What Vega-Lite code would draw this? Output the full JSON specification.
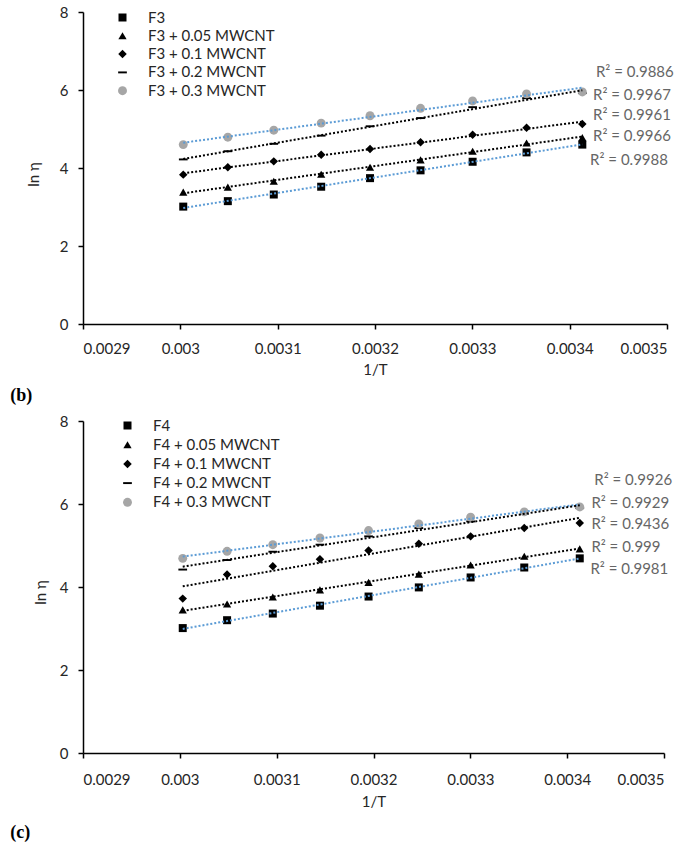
{
  "$schema": "https://vega.github.io/schema/vega-lite/v6.json",
  "background": "white",
  "padding": {"left": 10, "top": 5, "right": 5, "bottom": 3},
  "spacing": 9,
  "datasets": {
    "pts": [
      {"panel": "b", "series": "F3", "x": 0.0030030, "y": 3.01},
      {"panel": "b", "series": "F3", "x": 0.0030488, "y": 3.15},
      {"panel": "b", "series": "F3", "x": 0.0030960, "y": 3.32},
      {"panel": "b", "series": "F3", "x": 0.0031447, "y": 3.52},
      {"panel": "b", "series": "F3", "x": 0.0031949, "y": 3.74},
      {"panel": "b", "series": "F3", "x": 0.0032468, "y": 3.94},
      {"panel": "b", "series": "F3", "x": 0.0033003, "y": 4.16},
      {"panel": "b", "series": "F3", "x": 0.0033557, "y": 4.40},
      {"panel": "b", "series": "F3", "x": 0.0034130, "y": 4.60},
      {"panel": "b", "series": "F3 + 0.05 MWCNT", "x": 0.0030030, "y": 3.38},
      {"panel": "b", "series": "F3 + 0.05 MWCNT", "x": 0.0030488, "y": 3.51},
      {"panel": "b", "series": "F3 + 0.05 MWCNT", "x": 0.0030960, "y": 3.66},
      {"panel": "b", "series": "F3 + 0.05 MWCNT", "x": 0.0031447, "y": 3.84},
      {"panel": "b", "series": "F3 + 0.05 MWCNT", "x": 0.0031949, "y": 4.02},
      {"panel": "b", "series": "F3 + 0.05 MWCNT", "x": 0.0032468, "y": 4.21},
      {"panel": "b", "series": "F3 + 0.05 MWCNT", "x": 0.0033003, "y": 4.43},
      {"panel": "b", "series": "F3 + 0.05 MWCNT", "x": 0.0033557, "y": 4.64},
      {"panel": "b", "series": "F3 + 0.05 MWCNT", "x": 0.0034130, "y": 4.78},
      {"panel": "b", "series": "F3 + 0.1 MWCNT", "x": 0.0030030, "y": 3.83},
      {"panel": "b", "series": "F3 + 0.1 MWCNT", "x": 0.0030488, "y": 4.02},
      {"panel": "b", "series": "F3 + 0.1 MWCNT", "x": 0.0030960, "y": 4.17},
      {"panel": "b", "series": "F3 + 0.1 MWCNT", "x": 0.0031447, "y": 4.34},
      {"panel": "b", "series": "F3 + 0.1 MWCNT", "x": 0.0031949, "y": 4.49},
      {"panel": "b", "series": "F3 + 0.1 MWCNT", "x": 0.0032468, "y": 4.66},
      {"panel": "b", "series": "F3 + 0.1 MWCNT", "x": 0.0033003, "y": 4.85},
      {"panel": "b", "series": "F3 + 0.1 MWCNT", "x": 0.0033557, "y": 5.03},
      {"panel": "b", "series": "F3 + 0.1 MWCNT", "x": 0.0034130, "y": 5.13},
      {"panel": "b", "series": "F3 + 0.2 MWCNT", "x": 0.0030030, "y": 4.22},
      {"panel": "b", "series": "F3 + 0.2 MWCNT", "x": 0.0030488, "y": 4.43},
      {"panel": "b", "series": "F3 + 0.2 MWCNT", "x": 0.0030960, "y": 4.62},
      {"panel": "b", "series": "F3 + 0.2 MWCNT", "x": 0.0031447, "y": 4.83},
      {"panel": "b", "series": "F3 + 0.2 MWCNT", "x": 0.0031949, "y": 5.07},
      {"panel": "b", "series": "F3 + 0.2 MWCNT", "x": 0.0032468, "y": 5.28},
      {"panel": "b", "series": "F3 + 0.2 MWCNT", "x": 0.0033003, "y": 5.56},
      {"panel": "b", "series": "F3 + 0.2 MWCNT", "x": 0.0033557, "y": 5.79},
      {"panel": "b", "series": "F3 + 0.2 MWCNT", "x": 0.0034130, "y": 5.92},
      {"panel": "b", "series": "F3 + 0.3 MWCNT", "x": 0.0030030, "y": 4.60},
      {"panel": "b", "series": "F3 + 0.3 MWCNT", "x": 0.0030488, "y": 4.79},
      {"panel": "b", "series": "F3 + 0.3 MWCNT", "x": 0.0030960, "y": 4.97},
      {"panel": "b", "series": "F3 + 0.3 MWCNT", "x": 0.0031447, "y": 5.15},
      {"panel": "b", "series": "F3 + 0.3 MWCNT", "x": 0.0031949, "y": 5.34},
      {"panel": "b", "series": "F3 + 0.3 MWCNT", "x": 0.0032468, "y": 5.53},
      {"panel": "b", "series": "F3 + 0.3 MWCNT", "x": 0.0033003, "y": 5.72},
      {"panel": "b", "series": "F3 + 0.3 MWCNT", "x": 0.0033557, "y": 5.90},
      {"panel": "b", "series": "F3 + 0.3 MWCNT", "x": 0.0034130, "y": 5.95},
      {"panel": "c", "series": "F4", "x": 0.0030030, "y": 3.01},
      {"panel": "c", "series": "F4", "x": 0.0030488, "y": 3.20},
      {"panel": "c", "series": "F4", "x": 0.0030960, "y": 3.36},
      {"panel": "c", "series": "F4", "x": 0.0031447, "y": 3.55},
      {"panel": "c", "series": "F4", "x": 0.0031949, "y": 3.77},
      {"panel": "c", "series": "F4", "x": 0.0032468, "y": 3.99},
      {"panel": "c", "series": "F4", "x": 0.0033003, "y": 4.23},
      {"panel": "c", "series": "F4", "x": 0.0033557, "y": 4.47},
      {"panel": "c", "series": "F4", "x": 0.0034130, "y": 4.69},
      {"panel": "c", "series": "F4 + 0.05 MWCNT", "x": 0.0030030, "y": 3.45},
      {"panel": "c", "series": "F4 + 0.05 MWCNT", "x": 0.0030488, "y": 3.59},
      {"panel": "c", "series": "F4 + 0.05 MWCNT", "x": 0.0030960, "y": 3.76},
      {"panel": "c", "series": "F4 + 0.05 MWCNT", "x": 0.0031447, "y": 3.93},
      {"panel": "c", "series": "F4 + 0.05 MWCNT", "x": 0.0031949, "y": 4.11},
      {"panel": "c", "series": "F4 + 0.05 MWCNT", "x": 0.0032468, "y": 4.31},
      {"panel": "c", "series": "F4 + 0.05 MWCNT", "x": 0.0033003, "y": 4.53},
      {"panel": "c", "series": "F4 + 0.05 MWCNT", "x": 0.0033557, "y": 4.74},
      {"panel": "c", "series": "F4 + 0.05 MWCNT", "x": 0.0034130, "y": 4.92},
      {"panel": "c", "series": "F4 + 0.1 MWCNT", "x": 0.0030030, "y": 3.72},
      {"panel": "c", "series": "F4 + 0.1 MWCNT", "x": 0.0030488, "y": 4.30},
      {"panel": "c", "series": "F4 + 0.1 MWCNT", "x": 0.0030960, "y": 4.50},
      {"panel": "c", "series": "F4 + 0.1 MWCNT", "x": 0.0031447, "y": 4.67},
      {"panel": "c", "series": "F4 + 0.1 MWCNT", "x": 0.0031949, "y": 4.88},
      {"panel": "c", "series": "F4 + 0.1 MWCNT", "x": 0.0032468, "y": 5.04},
      {"panel": "c", "series": "F4 + 0.1 MWCNT", "x": 0.0033003, "y": 5.22},
      {"panel": "c", "series": "F4 + 0.1 MWCNT", "x": 0.0033557, "y": 5.42},
      {"panel": "c", "series": "F4 + 0.1 MWCNT", "x": 0.0034130, "y": 5.54},
      {"panel": "c", "series": "F4 + 0.2 MWCNT", "x": 0.0030030, "y": 4.42},
      {"panel": "c", "series": "F4 + 0.2 MWCNT", "x": 0.0030488, "y": 4.65},
      {"panel": "c", "series": "F4 + 0.2 MWCNT", "x": 0.0030960, "y": 4.85},
      {"panel": "c", "series": "F4 + 0.2 MWCNT", "x": 0.0031447, "y": 5.02},
      {"panel": "c", "series": "F4 + 0.2 MWCNT", "x": 0.0031949, "y": 5.22},
      {"panel": "c", "series": "F4 + 0.2 MWCNT", "x": 0.0032468, "y": 5.42},
      {"panel": "c", "series": "F4 + 0.2 MWCNT", "x": 0.0033003, "y": 5.58},
      {"panel": "c", "series": "F4 + 0.2 MWCNT", "x": 0.0033557, "y": 5.76},
      {"panel": "c", "series": "F4 + 0.2 MWCNT", "x": 0.0034130, "y": 5.90},
      {"panel": "c", "series": "F4 + 0.3 MWCNT", "x": 0.0030030, "y": 4.69},
      {"panel": "c", "series": "F4 + 0.3 MWCNT", "x": 0.0030488, "y": 4.86},
      {"panel": "c", "series": "F4 + 0.3 MWCNT", "x": 0.0030960, "y": 5.02},
      {"panel": "c", "series": "F4 + 0.3 MWCNT", "x": 0.0031447, "y": 5.18},
      {"panel": "c", "series": "F4 + 0.3 MWCNT", "x": 0.0031949, "y": 5.36},
      {"panel": "c", "series": "F4 + 0.3 MWCNT", "x": 0.0032468, "y": 5.52},
      {"panel": "c", "series": "F4 + 0.3 MWCNT", "x": 0.0033003, "y": 5.68},
      {"panel": "c", "series": "F4 + 0.3 MWCNT", "x": 0.0033557, "y": 5.81},
      {"panel": "c", "series": "F4 + 0.3 MWCNT", "x": 0.0034130, "y": 5.93}
    ],
    "fits": [
      {"panel": "b", "series": "F3 + 0.3 MWCNT", "r2": "R² = 0.9886", "lx": 0.003427, "ly": 6.46},
      {"panel": "b", "series": "F3 + 0.2 MWCNT", "r2": "R² = 0.9967", "lx": 0.003424, "ly": 5.87},
      {"panel": "b", "series": "F3 + 0.1 MWCNT", "r2": "R² = 0.9961", "lx": 0.003424, "ly": 5.36},
      {"panel": "b", "series": "F3 + 0.05 MWCNT", "r2": "R² = 0.9966", "lx": 0.003424, "ly": 4.82},
      {"panel": "b", "series": "F3", "r2": "R² = 0.9988", "lx": 0.003421, "ly": 4.21},
      {"panel": "c", "series": "F4 + 0.3 MWCNT", "r2": "R² = 0.9926", "lx": 0.003428, "ly": 6.58},
      {"panel": "c", "series": "F4 + 0.2 MWCNT", "r2": "R² = 0.9929", "lx": 0.003425, "ly": 6.02},
      {"panel": "c", "series": "F4 + 0.1 MWCNT", "r2": "R² = 0.9436", "lx": 0.003425, "ly": 5.53},
      {"panel": "c", "series": "F4 + 0.05 MWCNT", "r2": "R² = 0.999", "lx": 0.003425, "ly": 4.96},
      {"panel": "c", "series": "F4", "r2": "R² = 0.9981", "lx": 0.003424, "ly": 4.43}
    ]
  },
  "vconcat": [
    {
      "width": 584,
      "height": 312,
      "title": {"text": "(b)", "orient": "bottom", "anchor": "start", "frame": "bounds", "font": "Liberation Serif", "fontSize": 18, "fontWeight": "bold", "color": "#000", "offset": 10, "dx": -16},
      "layer": [
        {
          "data": {"name": "pts"},
          "transform": [{"filter": "datum.panel === 'b'"}],
          "mark": {"type": "point", "filled": true, "opacity": 1},
          "encoding": {
            "x": {"field": "x", "type": "quantitative", "title": "1/T", "scale": {"domain": [0.0029, 0.0035], "nice": false, "zero": false}, "axis": {"values": [0.0029, 0.003, 0.0031, 0.0032, 0.0033, 0.0034, 0.0035], "format": "~g", "labelPadding": 12, "titlePadding": 6}},
            "y": {"field": "y", "type": "quantitative", "title": "ln η", "scale": {"domain": [0, 8], "nice": false}, "axis": {"values": [0, 2, 4, 6, 8], "titlePadding": 18, "titleY": 162}},
            "shape": {"field": "series", "type": "nominal", "scale": {"domain": ["F3", "F3 + 0.05 MWCNT", "F3 + 0.1 MWCNT", "F3 + 0.2 MWCNT", "F3 + 0.3 MWCNT"], "range": ["square", "triangle-up", "diamond", "M-1,-0.22H1V0.22H-1Z", "circle"]}, "legend": {"orient": "none", "legendX": 32, "legendY": -2, "title": null, "rowPadding": 2.3}},
            "color": {"field": "series", "type": "nominal", "scale": {"domain": ["F3", "F3 + 0.05 MWCNT", "F3 + 0.1 MWCNT", "F3 + 0.2 MWCNT", "F3 + 0.3 MWCNT"], "range": ["#000000", "#000000", "#000000", "#000000", "#a6a6a6"]}, "legend": {"orient": "none", "legendX": 32, "legendY": -2, "title": null, "rowPadding": 2.3}},
            "size": {"field": "series", "type": "nominal", "scale": {"domain": ["F3", "F3 + 0.05 MWCNT", "F3 + 0.1 MWCNT", "F3 + 0.2 MWCNT", "F3 + 0.3 MWCNT"], "range": [64, 80, 90, 144, 81]}, "legend": null}
          }
        },
        {
          "data": {"name": "pts"},
          "transform": [
            {"filter": "datum.panel === 'b' && (datum.series === 'F3' || datum.series === 'F3 + 0.3 MWCNT')"},
            {"regression": "y", "on": "x", "groupby": ["series"]}
          ],
          "mark": {"type": "line", "color": "#5b9bd5", "strokeWidth": 2, "strokeDash": [2, 2]},
          "encoding": {
            "x": {"field": "x", "type": "quantitative", "title": "1/T"},
            "y": {"field": "y", "type": "quantitative", "title": "ln η"},
            "detail": {"field": "series"}
          }
        },
        {
          "data": {"name": "pts"},
          "transform": [
            {"filter": "datum.panel === 'b' && datum.series !== 'F3' && datum.series !== 'F3 + 0.3 MWCNT'"},
            {"regression": "y", "on": "x", "groupby": ["series"]}
          ],
          "mark": {"type": "line", "color": "#000000", "strokeWidth": 2, "strokeDash": [2, 2]},
          "encoding": {
            "x": {"field": "x", "type": "quantitative", "title": "1/T"},
            "y": {"field": "y", "type": "quantitative", "title": "ln η"},
            "detail": {"field": "series"}
          }
        },
        {
          "data": {"name": "fits"},
          "transform": [{"filter": "datum.panel === 'b'"}],
          "mark": {"type": "text", "align": "left", "baseline": "middle", "font": "Lato", "fontSize": 15, "color": "#666666"},
          "encoding": {
            "x": {"field": "lx", "type": "quantitative", "title": "1/T"},
            "y": {"field": "ly", "type": "quantitative", "title": "ln η"},
            "text": {"field": "r2"}
          }
        }
      ]
    },
    {
      "width": 581,
      "height": 332,
      "title": {"text": "(c)", "orient": "bottom", "anchor": "start", "frame": "bounds", "font": "Liberation Serif", "fontSize": 18, "fontWeight": "bold", "color": "#000", "offset": 15, "dx": -23},
      "layer": [
        {
          "data": {"name": "pts"},
          "transform": [{"filter": "datum.panel === 'c'"}],
          "mark": {"type": "point", "filled": true, "opacity": 1},
          "encoding": {
            "x": {"field": "x", "type": "quantitative", "title": "1/T", "scale": {"domain": [0.0029, 0.0035], "nice": false, "zero": false}, "axis": {"values": [0.0029, 0.003, 0.0031, 0.0032, 0.0033, 0.0034, 0.0035], "format": "~g", "labelPadding": 14, "titlePadding": 7}},
            "y": {"field": "y", "type": "quantitative", "title": "ln η", "scale": {"domain": [0, 8], "nice": false}, "axis": {"values": [0, 2, 4, 6, 8], "titlePadding": 11, "titleY": 171}},
            "shape": {"field": "series", "type": "nominal", "scale": {"domain": ["F4", "F4 + 0.05 MWCNT", "F4 + 0.1 MWCNT", "F4 + 0.2 MWCNT", "F4 + 0.3 MWCNT"], "range": ["square", "triangle-up", "diamond", "M-1,-0.22H1V0.22H-1Z", "circle"]}, "legend": {"orient": "none", "legendX": 37, "legendY": -3, "title": null, "rowPadding": 3.2}},
            "color": {"field": "series", "type": "nominal", "scale": {"domain": ["F4", "F4 + 0.05 MWCNT", "F4 + 0.1 MWCNT", "F4 + 0.2 MWCNT", "F4 + 0.3 MWCNT"], "range": ["#000000", "#000000", "#000000", "#000000", "#a6a6a6"]}, "legend": {"orient": "none", "legendX": 37, "legendY": -3, "title": null, "rowPadding": 3.2}},
            "size": {"field": "series", "type": "nominal", "scale": {"domain": ["F4", "F4 + 0.05 MWCNT", "F4 + 0.1 MWCNT", "F4 + 0.2 MWCNT", "F4 + 0.3 MWCNT"], "range": [64, 80, 90, 144, 81]}, "legend": null}
          }
        },
        {
          "data": {"name": "pts"},
          "transform": [
            {"filter": "datum.panel === 'c' && (datum.series === 'F4' || datum.series === 'F4 + 0.3 MWCNT')"},
            {"regression": "y", "on": "x", "groupby": ["series"]}
          ],
          "mark": {"type": "line", "color": "#5b9bd5", "strokeWidth": 2, "strokeDash": [2, 2]},
          "encoding": {
            "x": {"field": "x", "type": "quantitative", "title": "1/T"},
            "y": {"field": "y", "type": "quantitative", "title": "ln η"},
            "detail": {"field": "series"}
          }
        },
        {
          "data": {"name": "pts"},
          "transform": [
            {"filter": "datum.panel === 'c' && datum.series !== 'F4' && datum.series !== 'F4 + 0.3 MWCNT'"},
            {"regression": "y", "on": "x", "groupby": ["series"]}
          ],
          "mark": {"type": "line", "color": "#000000", "strokeWidth": 2, "strokeDash": [2, 2]},
          "encoding": {
            "x": {"field": "x", "type": "quantitative", "title": "1/T"},
            "y": {"field": "y", "type": "quantitative", "title": "ln η"},
            "detail": {"field": "series"}
          }
        },
        {
          "data": {"name": "fits"},
          "transform": [{"filter": "datum.panel === 'c'"}],
          "mark": {"type": "text", "align": "left", "baseline": "middle", "font": "Lato", "fontSize": 15, "color": "#666666"},
          "encoding": {
            "x": {"field": "lx", "type": "quantitative", "title": "1/T"},
            "y": {"field": "ly", "type": "quantitative", "title": "ln η"},
            "text": {"field": "r2"}
          }
        }
      ]
    }
  ],
  "resolve": {"scale": {"color": "independent", "shape": "independent", "size": "independent", "x": "independent", "y": "independent"}, "legend": {"color": "independent", "shape": "independent"}},
  "config": {
    "view": {"stroke": null},
    "font": "Lato",
    "axis": {
      "grid": false,
      "domainColor": "#000000",
      "domainWidth": 1.5,
      "tickColor": "#000000",
      "tickWidth": 1.5,
      "tickSize": 5,
      "labelFont": "Lato",
      "labelFontSize": 15,
      "labelColor": "#262626",
      "titleFont": "Lato",
      "titleFontSize": 15,
      "titleFontWeight": "normal",
      "titleColor": "#262626"
    },
    "axisY": {"labelPadding": 10},
    "legend": {
      "labelFont": "Lato",
      "labelFontSize": 15,
      "labelColor": "#262626",
      "symbolSize": 60,
      "symbolStrokeWidth": 0,
      "labelOffset": 18,
      "padding": 0
    }
  }
}
